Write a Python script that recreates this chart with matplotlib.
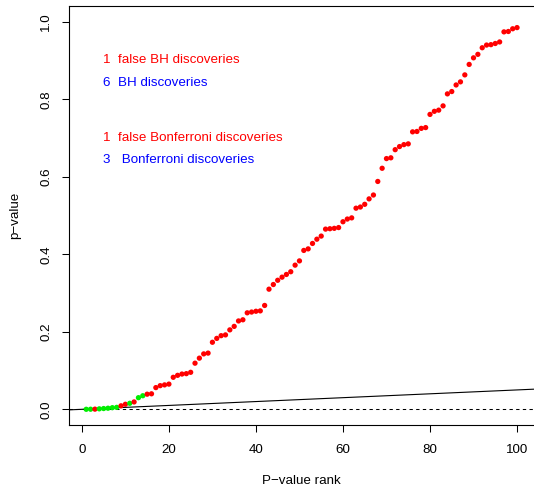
import matplotlib
matplotlib.use("Agg")
import matplotlib.pyplot as plt
import numpy as np

plt.rcParams["font.family"] = ["Liberation Sans", "DejaVu Sans"]

# sorted p-values
pvals = [0.00005, 0.0002, 0.0004, 0.0012, 0.002, 0.0028, 0.0042, 0.005, 0.009, 0.013,
         0.0155, 0.019, 0.030, 0.035, 0.039, 0.040, 0.056, 0.061, 0.063, 0.065,
         0.0826, 0.0877, 0.091, 0.092, 0.0955, 0.119, 0.132, 0.143, 0.145, 0.173,
         0.183, 0.190, 0.192, 0.205, 0.214, 0.228, 0.231, 0.249, 0.251, 0.253,
         0.254, 0.268, 0.310, 0.322, 0.333, 0.341, 0.348, 0.355, 0.372, 0.383,
         0.410, 0.414, 0.428, 0.439, 0.447, 0.465, 0.466, 0.467, 0.469, 0.484,
         0.491, 0.494, 0.519, 0.522, 0.529, 0.543, 0.553, 0.588, 0.622, 0.647,
         0.649, 0.670, 0.678, 0.683, 0.685, 0.716, 0.717, 0.725, 0.727, 0.761,
         0.769, 0.772, 0.783, 0.814, 0.820, 0.837, 0.845, 0.863, 0.890, 0.907,
         0.916, 0.933, 0.940, 0.941, 0.944, 0.948, 0.974, 0.975, 0.982, 0.985]
# ranks whose hypothesis is truly non-null (green)
true_ranks = [1, 2, 4, 5, 6, 7, 8, 11, 13, 14]
alpha = 0.05

notes = ["1  false BH discoveries", "6  BH discoveries",
         "1  false Bonferroni discoveries", "3   Bonferroni discoveries"]
note_y = [0.901, 0.843, 0.701, 0.643]
note_col = ["#FF0000", "#0000FF", "#FF0000", "#0000FF"]

fs = 9.6

m = len(pvals)
rank = np.arange(1, m + 1)
cols = ["#00EE00" if r in true_ranks else "#FF0000" for r in rank]

fig = plt.figure(figsize=(5.34, 4.88), dpi=100)
ax = fig.add_axes([0.1292, 0.1295, 0.8713, 0.8576])

ax.scatter(rank, pvals, c=cols, s=3.8 ** 2, linewidths=0, zorder=3)
xs = np.array([-10, 120])
ax.plot(xs, alpha * xs / m, color="black", lw=0.8)
ax.axhline(0, color="black", lw=0.75, linestyle=(0, (3.2, 3.2)))

for t, y, c in zip(notes, note_y, note_col):
    ax.text(4.9, y, t, color=c, fontsize=fs, ha="left", va="center")

ax.set_xlim(-2.96, 103.96)
ax.set_ylim(-0.04, 1.04)
ax.set_xticks([0, 20, 40, 60, 80, 100])
ax.set_yticks([0.0, 0.2, 0.4, 0.6, 0.8, 1.0])
ax.set_yticklabels(["0.0", "0.2", "0.4", "0.6", "0.8", "1.0"])
ax.tick_params(direction="out", length=5.2, width=0.75, labelsize=fs)
ax.tick_params(axis="x", pad=8.8)
ax.tick_params(axis="y", pad=6.8)
for lab in ax.get_yticklabels():
    lab.set_rotation(90)
    lab.set_va("center")
for s in ax.spines.values():
    s.set_linewidth(0.8)
ax.spines["right"].set_visible(False)

fig.text(301.5 / 534, 1 - 481 / 488, "P\u2212value rank", fontsize=fs,
         ha="center", va="center")
fig.text(15 / 534, 1 - 215.5 / 488, "p\u2212value", fontsize=fs,
         ha="center", va="center", rotation=90)

fig.savefig("out.png", dpi=100)
